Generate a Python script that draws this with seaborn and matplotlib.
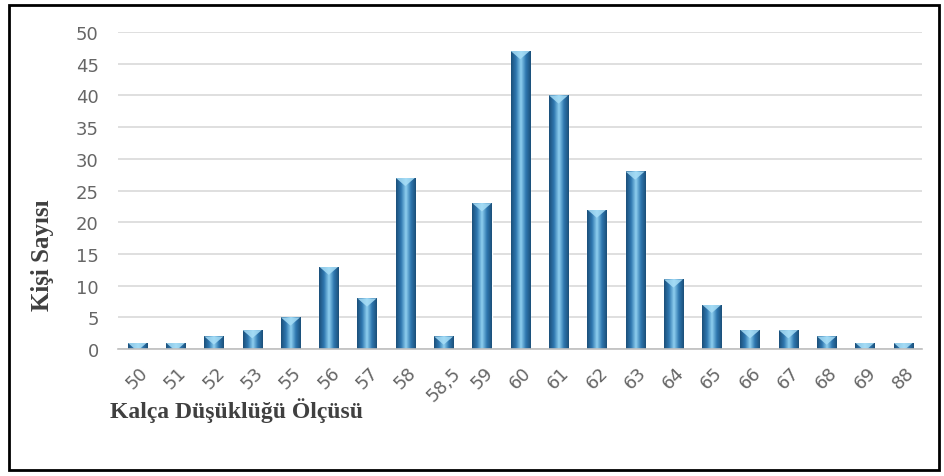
import numpy as np
import pandas as pd
import matplotlib
matplotlib.use('Agg')
import matplotlib.pyplot as plt
from matplotlib.colors import LinearSegmentedColormap
from matplotlib.patches import Rectangle, Polygon
import seaborn as sns

# Data
sizes = ['50', '51', '52', '53', '55', '56', '57', '58', '58,5', '59', '60',
         '61', '62', '63', '64', '65', '66', '67', '68', '69', '88']
counts = [1, 1, 2, 3, 5, 13, 8, 27, 2, 23, 47, 40, 22, 28, 11, 7, 3, 3, 2, 1, 1]

df = pd.DataFrame({'size': sizes, 'count': counts})

sns.set_theme(style='white')
plt.rcParams['font.family'] = ['DejaVu Sans']

fig = plt.figure(figsize=(9.45, 4.77), dpi=100)
ax = fig.add_axes([0.125, 0.266, 0.851, 0.665])

sns.barplot(data=df, x='size', y='count', order=sizes, color='#2e75b6',
            width=0.5, ax=ax, saturation=1)

# cylinder-like shading on each bar, plus the light cap at the top
cyl = LinearSegmentedColormap.from_list(
    'cyl', ['#1b4f7a', '#2f78b0', '#8fd0f0', '#2f78b0', '#1b4f7a'])
grad = np.linspace(0, 1, 64).reshape(1, -1)
for p in list(ax.patches):
    x0, y0 = p.get_x(), p.get_y()
    w, h = p.get_width(), p.get_height()
    im = ax.imshow(grad, cmap=cyl, aspect='auto',
                   extent=[x0, x0 + w, y0, y0 + h], zorder=p.get_zorder() + 0.1)
    im.set_clip_path(p)
    top = y0 + h
    cap = Polygon([(x0, top), (x0 + w, top), (x0 + w / 2, top - 1.3)],
                  closed=True, facecolor='#a8def7', edgecolor='none',
                  alpha=0.85, zorder=p.get_zorder() + 0.2)
    ax.add_patch(cap)
    cap.set_clip_path(p)

ax.set_xlim(-0.5, 20.5)
ax.set_ylim(0, 50)
ax.set_yticks(range(0, 51, 5))
ax.yaxis.grid(True, color='#d9d9d9', linewidth=1.2)
ax.set_axisbelow(True)
for s in ['top', 'right', 'left']:
    ax.spines[s].set_visible(False)
ax.spines['bottom'].set_color('#bfbfbf')
ax.spines['bottom'].set_linewidth(1.2)
ax.tick_params(axis='both', length=0, colors='#666666', labelsize=13, pad=14)
ax.tick_params(axis='x', pad=10)
plt.setp(ax.get_xticklabels(), rotation=45, ha='center', va='top')

ax.set_xlabel('')
ax.set_ylabel('')
fig.text(0.045, 0.465, 'Kişi Sayısı', fontsize=18, fontweight='bold',
         family='Liberation Serif', color='#404040', rotation=90,
         ha='center', va='center')
fig.text(0.116, 0.14, 'Kalça Düşüklüğü Ölçüsü', fontsize=17,
         fontweight='bold', family='Liberation Serif', color='#404040',
         ha='left', va='center')

# frame round the whole picture
fig.patches.append(Rectangle((0.009, 0.013), 0.985, 0.975, transform=fig.transFigure,
                             fill=False, edgecolor='black', linewidth=2))

fig.savefig('out.png', dpi=100)
